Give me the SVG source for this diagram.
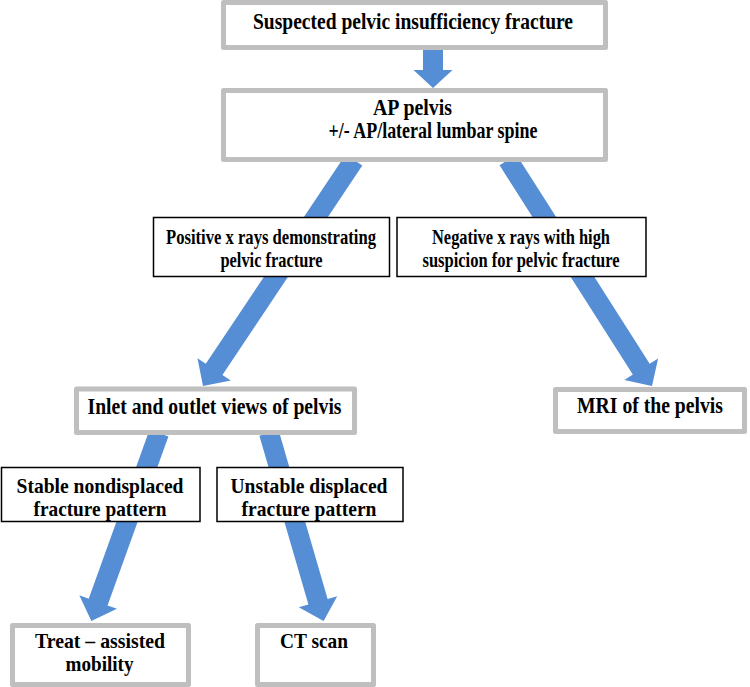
<svg xmlns="http://www.w3.org/2000/svg" width="750" height="687" viewBox="0 0 750 687">
<style>
  .gbox { fill: #ffffff; stroke: #bfbfbf; stroke-width: 5; stroke-linejoin: round; }
  .tbox { fill: #ffffff; stroke: #000000; stroke-width: 1.5; }
  .arrow { fill: #558ed5; }
  text { font-family: "Liberation Serif", "Times New Roman", serif; font-weight: bold; font-size: 23px; fill: #000000; text-anchor: middle; }
  .sm { font-size: 21.5px; }
</style>
<rect width="750" height="687" fill="#ffffff"/>
<g id="connectors">
  <path class="arrow" d="M423,48 H443 V70 H452.5 L433,88 L413.5,70 H423 Z"/>
  <path class="arrow" transform="translate(354,160) rotate(123.75)" d="M0,-10 H251.8 V-20 L271.8,0 L251.8,20 V10 H0 Z"/>
  <path class="arrow" transform="translate(508,160) rotate(57.5)" d="M0,-10 H248 V-20 L268,0 L248,20 V10 H0 Z"/>
  <path class="arrow" transform="translate(159,433) rotate(109.8)" d="M0,-10 H179.7 V-20 L199.7,0 L179.7,20 V10 H0 Z"/>
  <path class="arrow" transform="translate(269,433) rotate(73.8)" d="M0,-10 H175.7 V-20 L195.7,0 L175.7,20 V10 H0 Z"/>
</g>
<g id="n1">
  <rect class="gbox" x="223.5" y="2.5" width="382" height="45"/>
  <text x="413" y="28.5" textLength="320" lengthAdjust="spacingAndGlyphs">Suspected pelvic insufficiency fracture</text>
</g>
<g id="n2">
  <rect class="gbox" x="223.5" y="90.5" width="382" height="69"/>
  <text x="412.5" y="115" textLength="79" lengthAdjust="spacingAndGlyphs">AP pelvis</text>
  <text x="433" y="137.5" textLength="209" lengthAdjust="spacingAndGlyphs">+/- AP/lateral lumbar spine</text>
</g>
<g id="n3">
  <rect class="tbox" x="153.5" y="217.5" width="236" height="59"/>
  <text class="sm" x="271" y="243.5" textLength="210" lengthAdjust="spacingAndGlyphs">Positive x rays demonstrating</text>
  <text class="sm" x="271.5" y="267" textLength="102" lengthAdjust="spacingAndGlyphs">pelvic fracture</text>
</g>
<g id="n4">
  <rect class="tbox" x="397" y="217.5" width="249" height="59"/>
  <text class="sm" x="521" y="243.5" textLength="178" lengthAdjust="spacingAndGlyphs">Negative x rays with high</text>
  <text class="sm" x="521" y="267" textLength="197" lengthAdjust="spacingAndGlyphs">suspicion for pelvic fracture</text>
</g>
<g id="n5">
  <rect class="gbox" x="76.5" y="389" width="278" height="43.5"/>
  <text x="214.5" y="413.5" textLength="254" lengthAdjust="spacingAndGlyphs">Inlet and outlet views of pelvis</text>
</g>
<g id="n6">
  <rect class="gbox" x="555.5" y="389.5" width="189" height="42"/>
  <text x="650" y="413" textLength="146" lengthAdjust="spacingAndGlyphs">MRI of the pelvis</text>
</g>
<g id="n7">
  <rect class="tbox" x="1.5" y="467.5" width="198.5" height="54"/>
  <text class="sm" x="100" y="492.5" textLength="167" lengthAdjust="spacingAndGlyphs">Stable nondisplaced</text>
  <text class="sm" x="100" y="516" textLength="133" lengthAdjust="spacingAndGlyphs">fracture pattern</text>
</g>
<g id="n8">
  <rect class="tbox" x="217" y="467.5" width="186" height="54"/>
  <text class="sm" x="309" y="492.5" textLength="157" lengthAdjust="spacingAndGlyphs">Unstable displaced</text>
  <text class="sm" x="309" y="516" textLength="135" lengthAdjust="spacingAndGlyphs">fracture pattern</text>
</g>
<g id="n9">
  <rect class="gbox" x="12.5" y="625.5" width="176" height="59"/>
  <text class="sm" x="100" y="648" textLength="130" lengthAdjust="spacingAndGlyphs">Treat – assisted</text>
  <text class="sm" x="99.5" y="671" textLength="68" lengthAdjust="spacingAndGlyphs">mobility</text>
</g>
<g id="n10">
  <rect class="gbox" x="257.5" y="625.5" width="116" height="59"/>
  <text class="sm" x="314" y="648" textLength="68" lengthAdjust="spacingAndGlyphs">CT scan</text>
</g>
</svg>
